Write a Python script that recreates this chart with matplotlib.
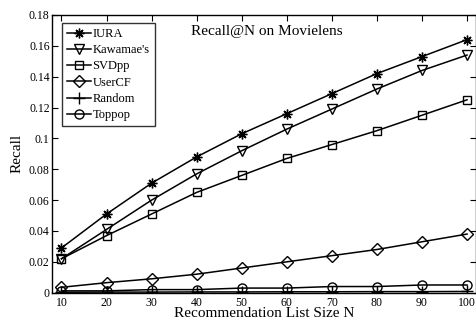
import matplotlib
matplotlib.use("Agg")
import matplotlib.pyplot as plt

plt.rcParams['font.family'] = ['Liberation Serif', 'DejaVu Serif']
plt.rcParams['mathtext.fontset'] = 'stix'

N = [10, 20, 30, 40, 50, 60, 70, 80, 90, 100]
iura = [0.029, 0.051, 0.071, 0.088, 0.103, 0.116, 0.129, 0.142, 0.153, 0.164]
kawamae = [0.022, 0.041, 0.060, 0.077, 0.092, 0.106, 0.119, 0.132, 0.144, 0.154]
svdpp = [0.022, 0.037, 0.051, 0.065, 0.076, 0.087, 0.096, 0.105, 0.115, 0.125]
usercf = [0.0035, 0.0065, 0.009, 0.012, 0.016, 0.020, 0.024, 0.028, 0.033, 0.038]
random_ = [0.0003, 0.0004, 0.0004, 0.0005, 0.0005, 0.0006, 0.0006, 0.0007, 0.0007, 0.0008]
toppop = [0.0012, 0.0012, 0.002, 0.002, 0.003, 0.003, 0.004, 0.004, 0.005, 0.005]

labels = ['IURA', "Kawamae's", 'SVDpp', 'UserCF', 'Random', 'Toppop']
series = [iura, kawamae, svdpp, usercf, random_, toppop]
markers = [(8, 2, 0), 'v', 's', 'D', '+', 'o']
msizes = [7, 7.5, 5.5, 6, 8, 6.5]

yticks = [0, 0.02, 0.04, 0.06, 0.08, 0.1, 0.12, 0.14, 0.16, 0.18]
ytick_labels = ['0', '0.02', '0.04', '0.06', '0.08', '0.1', '0.12', '0.14', '0.16', '0.18']

fig = plt.figure(figsize=(4.77, 3.2), dpi=100)
ax = fig.add_axes([0.110, 0.0853, 0.888, 0.868])

for y, lab, m, ms in zip(series, labels, markers, msizes):
    ax.plot(N, y, color='black', lw=1.1, marker=m, markersize=ms,
            markerfacecolor='none', markeredgecolor='black', markeredgewidth=1.0,
            label=lab)

ax.set_xlim(8, 102)
ax.set_ylim(0, 0.18)
ax.set_xticks(N)
ax.set_yticks(yticks)
ax.set_yticklabels(ytick_labels)
ax.tick_params(direction='in', length=4, width=0.8, top=True, right=True,
               labelsize=8.5)
ax.tick_params(axis='x', pad=3)
ax.tick_params(axis='y', pad=2)
for s in ax.spines.values():
    s.set_linewidth(1.0)

ax.set_xlabel('Recommendation List Size N', fontsize=11, labelpad=-1)
ax.set_ylabel('Recall', fontsize=11, labelpad=4)
ax.text(0.505, 0.94, 'Recall@N on Movielens', transform=ax.transAxes,
        ha='center', va='center', fontsize=11)

leg = ax.legend(loc='upper left', bbox_to_anchor=(0.0224, 0.971), borderaxespad=0,
                fontsize=9, handlelength=1.9, handletextpad=0.15, labelspacing=0.34,
                borderpad=0.4, frameon=True, fancybox=False)
leg.get_frame().set_edgecolor('black')
leg.get_frame().set_linewidth(1.0)

fig.savefig('out.png', dpi=100)
